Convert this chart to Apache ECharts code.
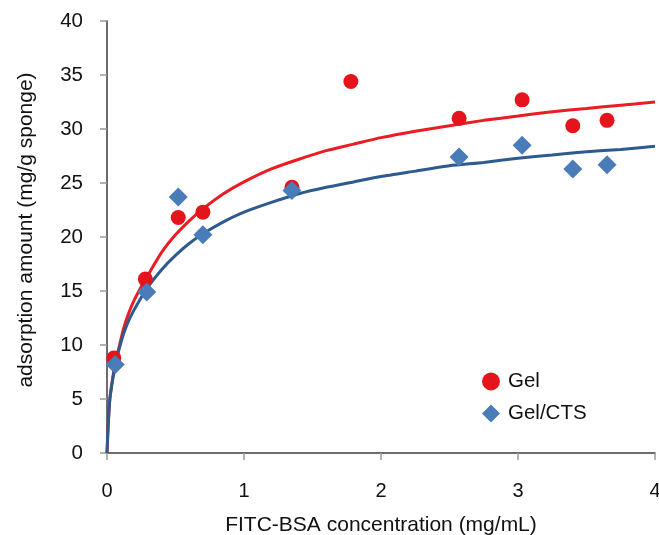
<!DOCTYPE html>
<html>
<head>
<meta charset="utf-8">
<script src="https://cdn.jsdelivr.net/npm/echarts@6/dist/echarts.min.js"></script>
<style>html,body{margin:0;padding:0;background:#fff}#c{width:659px;height:535px}</style>
</head>
<body>
<div id="c"></div>
<script>
// Measured data points
var gelX = [0.05, 0.28, 0.52, 0.70, 1.35, 1.78, 2.57, 3.03, 3.40, 3.65];
var gelY = [8.8, 16.1, 21.8, 22.3, 24.6, 34.4, 31.0, 32.7, 30.3, 30.8];
var ctsX = [0.06, 0.29, 0.52, 0.70, 1.35, 2.57, 3.03, 3.40, 3.65];
var ctsY = [8.2, 14.9, 23.7, 20.2, 24.3, 27.4, 28.5, 26.3, 26.7];
// Fitted curves
var gelFitX = [0, 0.005, 0.01, 0.02, 0.035, 0.05, 0.07, 0.09, 0.12, 0.16, 0.2, 0.25, 0.3, 0.4, 0.5, 0.6, 0.7, 0.85, 1.0, 1.2, 1.4, 1.6, 1.8, 2.0, 2.25, 2.5, 2.75, 3.0, 3.25, 3.5, 3.75, 4.0];
var gelFitY = [0, 1.5, 2.9, 4.9, 6.4, 7.6, 8.9, 9.9, 11.5, 13.0, 14.2, 15.4, 16.5, 18.6, 20.2, 21.5, 22.6, 24.0, 25.1, 26.3, 27.2, 28.0, 28.6, 29.2, 29.8, 30.3, 30.8, 31.2, 31.6, 31.9, 32.2, 32.5];
var ctsFitX = [0, 0.005, 0.01, 0.02, 0.035, 0.05, 0.07, 0.09, 0.12, 0.16, 0.2, 0.25, 0.3, 0.4, 0.5, 0.6, 0.7, 0.85, 1.0, 1.2, 1.4, 1.6, 1.8, 2.0, 2.25, 2.5, 2.75, 3.0, 3.25, 3.5, 3.75, 4.0];
var ctsFitY = [0, 1.6, 2.9, 4.9, 6.3, 7.4, 8.7, 9.7, 11.0, 12.3, 13.3, 14.4, 15.4, 17.0, 18.3, 19.4, 20.3, 21.4, 22.3, 23.2, 24.0, 24.6, 25.1, 25.6, 26.1, 26.6, 26.9, 27.3, 27.6, 27.9, 28.1, 28.4];
var xTicks = [0, 1, 2, 3, 4];
var yTicks = [0, 5, 10, 15, 20, 25, 30, 35, 40];

function pairs(xs, ys) { return xs.map(function (x, i) { return [x, ys[i]]; }); }

var FONT = 'Liberation Sans, Arial, sans-serif';
var chart = echarts.init(document.getElementById('c'), null, { renderer: 'canvas' });
chart.setOption({
  animation: false,
  backgroundColor: '#fff',
  textStyle: { fontFamily: FONT },
  grid: { left: 107, right: 4, top: 21, bottom: 82, containLabel: false, outerBoundsMode: 'none' },
  legend: {
    orient: 'vertical', left: 477, top: 366, itemGap: 11,
    itemWidth: 18, itemHeight: 18,
    textStyle: { fontFamily: FONT, fontSize: 20.5, color: '#111', padding: [0, 0, 0, 3] },
    data: [{ name: 'Gel', icon: 'circle' }, { name: 'Gel/CTS', icon: 'diamond' }]
  },
  xAxis: [{
    type: 'value', min: 0, max: 4, interval: 1,
    name: 'FITC-BSA concentration (mg/mL)', nameLocation: 'middle', nameGap: 62,
    nameTextStyle: { fontFamily: FONT, fontSize: 21, color: '#111' },
    axisLine: { lineStyle: { color: '#9a9a9a', width: 1.5 } },
    axisTick: { show: true, inside: false, length: 7, lineStyle: { color: '#9a9a9a', width: 1.5 } },
    axisLabel: { margin: 28, fontSize: 20, color: '#111', fontFamily: FONT,
      formatter: function (v) { return xTicks.indexOf(v) >= 0 ? String(v) : ''; } },
    splitLine: { show: false }
  }, {
    type: 'value', min: 0, max: 4, position: 'top',
    axisLine: { show: true, lineStyle: { color: '#555', width: 1.5 } },
    axisTick: { show: false }, axisLabel: { show: false }, splitLine: { show: false }
  }],
  yAxis: [{
    type: 'value', min: 0, max: 40, interval: 5,
    name: 'adsorption amount (mg/g sponge)', nameLocation: 'middle', nameGap: 70, nameRotate: 90,
    nameTextStyle: { fontFamily: FONT, fontSize: 21, color: '#111', padding: [0, 0, 0, 14] },
    axisLine: { show: true, lineStyle: { color: '#9a9a9a', width: 1.5 } },
    axisTick: { show: true, inside: false, length: 7, lineStyle: { color: '#9a9a9a', width: 1.5 } },
    axisLabel: { margin: 24, fontSize: 20.5, color: '#111', fontFamily: FONT,
      formatter: function (v) { return yTicks.indexOf(v) >= 0 ? String(v) : ''; } },
    splitLine: { show: false }
  }, {
    type: 'value', min: 0, max: 40, position: 'right',
    axisLine: { show: true, lineStyle: { color: '#555', width: 1.5 } },
    axisTick: { show: false }, axisLabel: { show: false }, splitLine: { show: false }
  }],
  series: [
    { name: 'Gel fit', type: 'line', data: pairs(gelFitX, gelFitY), smooth: 0.2, showSymbol: false,
      lineStyle: { color: '#ec1c24', width: 3 }, z: 2, silent: true },
    { name: 'Gel/CTS fit', type: 'line', data: pairs(ctsFitX, ctsFitY), smooth: 0.2, showSymbol: false,
      lineStyle: { color: '#2e5a8d', width: 3 }, z: 2, silent: true },
    { name: 'Gel', type: 'scatter', data: pairs(gelX, gelY), symbol: 'circle', symbolSize: 15,
      itemStyle: { color: '#e5141c', opacity: 1 }, z: 3 },
    { name: 'Gel/CTS', type: 'scatter', data: pairs(ctsX, ctsY), symbol: 'diamond', symbolSize: 19,
      itemStyle: { color: '#4a7cb9', opacity: 1 }, z: 4 }
  ]
});
</script>
</body>
</html>
